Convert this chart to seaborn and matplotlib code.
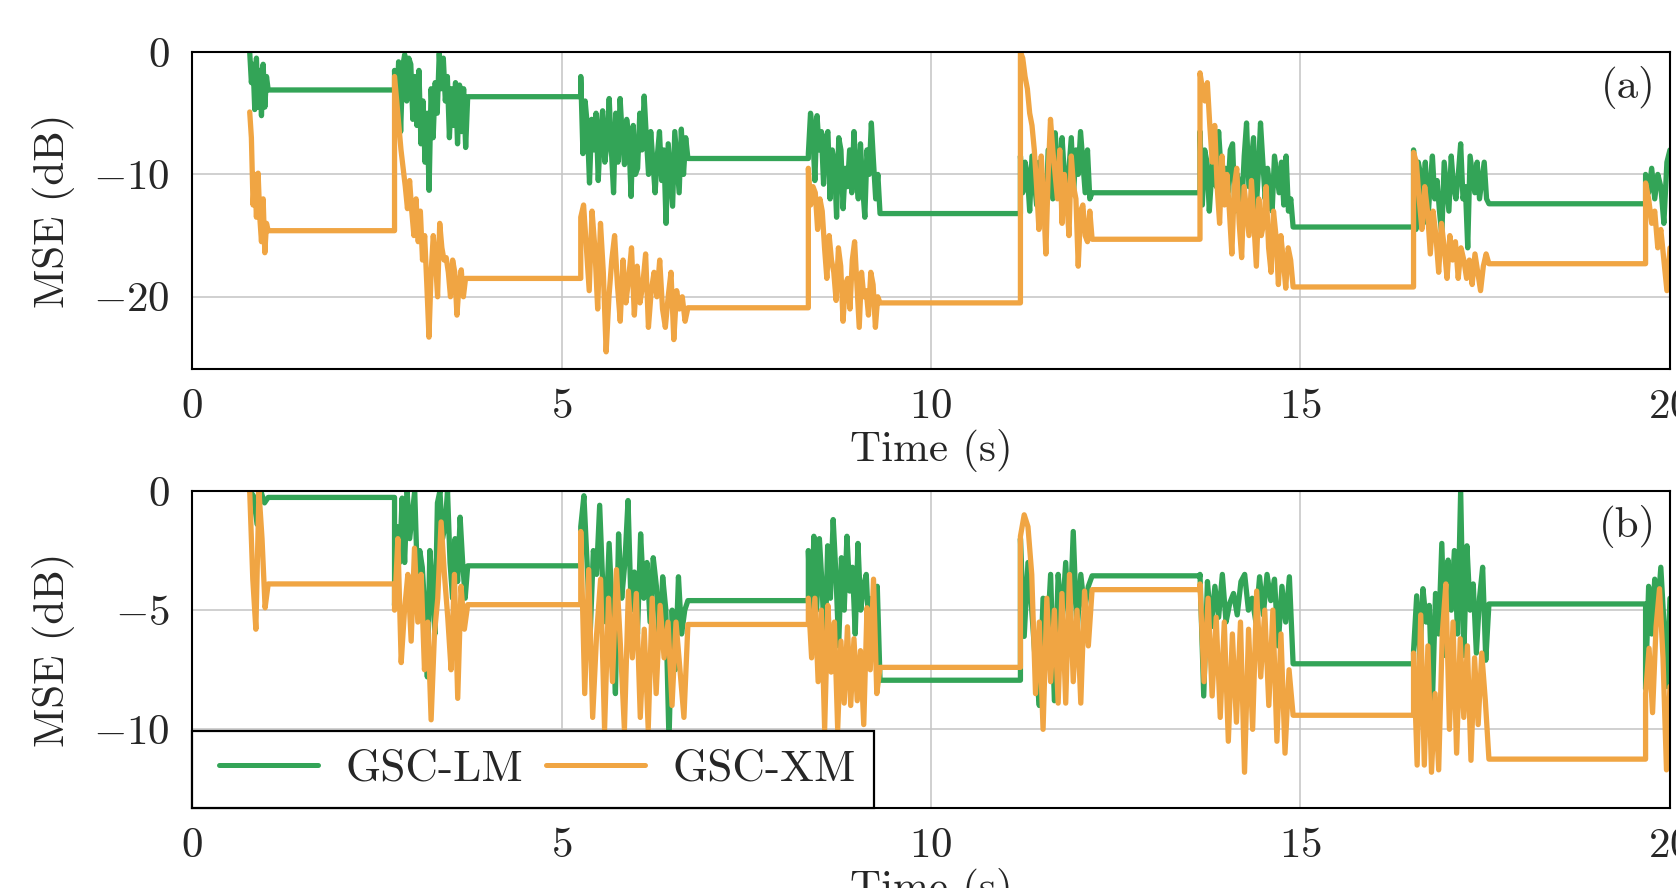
import numpy as np
import pandas as pd
import matplotlib
matplotlib.use("Agg")
import matplotlib.pyplot as plt
import seaborn as sns
from matplotlib.legend_handler import HandlerLine2D

# speech-active intervals (s); in the pauses the estimate is held
seg_start = [0.78, 2.74, 5.26, 8.34, 11.21, 13.64, 16.53, 19.67]
seg_end = [1.03, 3.73, 6.71, 9.31, 12.18, 14.90, 17.55, 20.0]

methods = ["GSC-LM", "GSC-XM"]
colors = ["#33a457", "#f0a543"]

# panel (a), MSE in dB per active interval (last value = held level)
lm_a = [
    [0, -2.5, -1.0, -4.7, -0.5, -4.5, -1.5, -5.2, -1.0, -4.5, -2, -3.1],
    [-1.5, -5, -0.8, -6.5, -1.2, -0.2, -4, -0.5, -1, -5.5, -2, -6, -1.5, -7.5, -4, -9, -5, -11.3, -3, -7, -2.5,
     -5, -0.1, -3, -0.5, -4, -2, -7, -3, -6, -2.5, -7.5, -2.7, -6.5, -3, -7.8, -3.65],
    [-2, -8.3, -4, -6, -10.7, -5.5, -8, -5, -10.5, -6.5, -4.8, -9, -7.5, -3.8, -8, -11.5, -5, -9, -3.8, -7, -9.2,
     -5.5, -7, -11.8, -6, -10, -9.5, -5, -8, -3.6, -7, -10, -6.5, -9, -11.5, -8.5, -6.5, -10.5, -8, -14, -7.5, -10,
     -12.6, -6.5, -9, -11.5, -6.3, -10, -7, -8.7],
    [-8.3, -5, -6.5, -10.5, -5.2, -8, -6.5, -10.8, -7, -6.5, -12, -8, -9, -13.5, -7, -8, -12.8, -9.5, -11, -8,
     -11.5, -6.5, -10, -12, -7.5, -11, -13.5, -8, -10, -5.8, -9, -12, -10, -13.2],
    [-8.5, -11.5, -9, -10, -13, -8.5, -10.5, -12.5, -9, -11, -13, -14, -8, -10, -12, -6.6, -9, -11, -7, -10, -12,
     -9.5, -7, -11.5, -8, -10, -6.5, -9, -11.5, -8, -12, -11.5],
    [-6.5, -12.5, -8, -9, -13, -10, -8, -11, -6.5, -9.5, -12, -9.5, -11.5, -8, -7.5, -13, -10, -11, -12.5, -8.5,
     -5.8, -11, -9, -7, -13.5, -10, -5.8, -9, -12, -9.5, -11, -13, -8.5, -10, -11.5, -9, -12.5, -8.5, -13, -12,
     -14.3],
    [-8, -14.5, -9, -10, -12, -9, -14, -11, -8.5, -12, -10.5, -13, -15, -9, -11, -13, -8.5, -11, -12, -10, -7.5,
     -12, -11, -16, -8.5, -10, -11.5, -9, -12, -10.5, -9, -12, -12.4],
    [-10, -11.5, -9.5, -12, -10, -11, -14, -9, -8],
]
xm_a = [
    [-4.9, -7, -12.5, -10, -13.5, -9.9, -13.5, -15.5, -12, -16.4, -14, -14.6],
    [-2, -4, -6, -8, -9.5, -11, -12.8, -10.5, -13, -15, -12, -15.5, -13, -17, -15, -19, -23.3, -18, -15, -17, -20,
     -14, -16, -17, -16.8, -18, -20, -17, -18, -21.5, -19, -17.8, -20, -18.5, -18.5],
    [-13.5, -12.5, -16, -19.5, -13, -16, -21, -14, -18, -24.5, -20, -17, -15, -19, -22, -17, -20.5, -18.5, -16,
     -21.5, -17.5, -20.5, -19, -16.5, -22.5, -19.5, -18, -20, -17, -21, -22.5, -20, -18, -23.5, -19.5, -21, -20,
     -22, -20.9],
    [-9.5, -12.5, -11, -11.5, -14.5, -12, -13, -16, -18.5, -15, -17, -18, -20.3, -16, -17.5, -22, -19, -18.5, -21,
     -17, -15.5, -19, -22.5, -18, -20, -19.5, -21.5, -18, -19, -22.5, -20, -20.5],
    [0, -0.5, -2, -3, -5, -6, -8, -11, -14.5, -8.5, -12, -16.5, -10, -5.5, -8, -10, -12, -8, -14, -10, -12, -15,
     -8.5, -11, -12, -17.5, -13, -12.5, -15, -15.5, -13, -15.3],
    [-1.7, -3, -4, -2.5, -6, -9, -6, -11, -14, -8.5, -12.5, -10, -13, -16.5, -11, -9.5, -14, -16.8, -11, -13, -15,
     -10.5, -14, -17.5, -12, -15, -14, -11, -16, -18, -13, -15, -19, -15, -17, -19.3, -16, -17, -19.2],
    [-8.2, -9, -12, -14.5, -11, -13, -16.5, -13, -15, -18, -14, -16, -18.5, -15, -17, -15.5, -18.5, -16, -17,
     -18.5, -17, -19, -16.5, -18, -19.5, -17.5, -16.5, -17.3],
    [-10.7, -12, -14, -13, -16, -14.5, -17, -19.5, -16],
]

# panel (b)
lm_b = [
    [0, -0.2, -1.4, 0, -0.5, -0.27],
    [-4.8, -1.5, -3, -0.3, -3, 0, -2, -1, 0, -3.5, -2.5, -3.2, -5, -7.8, -2.5, -4, -6, -0.5, 0, -2, -1.5, 0, -3,
     -4.5, -2, -3.8, -1.1, -3, -4.5, -3.14],
    [-1.5, -0.2, -3, -6, -2.5, -3.5, -0.6, -4, -5.5, -2.2, -5, -8.5, -1.8, -4.5, -3, -0.4, -5, -3.4, -6, -1.8,
     -4.5, -3, -5.5, -2.8, -4, -6.5, -3.6, -5, -10.5, -5, -7.5, -3.6, -6, -5, -4.6],
    [-2.5, -6, -1.9, -5, -2, -4, -7, -2.3, -4.5, -1.2, -3.5, -6.5, -2.8, -5, -1.9, -4.2, -3.2, -6, -2.2, -5, -4,
     -3.5, -6, -4.5, -5.5, -4, -7.94],
    [-2, -6.1, -3, -5, -7.3, -9, -4.5, -6.5, -3.5, -8.8, -3.5, -5.5, -3, -6, -1.7, -6, -3.5, -5, -4, -3.56],
    [-3.5, -8.6, -3.8, -5.7, -4, -5.3, -3.5, -5.5, -4.7, -4.3, -5.2, -3.8, -3.5, -5, -4.5, -5.5, -3.6, -5.2, -3.5,
     -4.6, -3.7, -6.5, -4, -5.5, -3.6, -7.25],
    [-6.7, -4.4, -7, -4.1, -5.5, -4.8, -8.9, -4.3, -6, -2.2, -6.9, -2.9, -5, -2.5, -6, 0, -6.9, -2.3, -5, -3.9,
     -6.8, -4.5, -3.2, -7.1, -4.74],
    [-8.3, -4, -6, -3.7, -5, -3.2, -5.5, -8.2, -4.5],
]
xm_b = [
    [0, -3.7, -5.8, 0, -2, -4.9, -3.9],
    [-5, -2, -7.2, -5, -3.5, -6.3, -2.4, -5.5, -3.5, -7.5, -5.5, -9.6, -6, -4.5, -1.3, -3.5, -5.3, -7.5, -3.5,
     -8.7, -4, -5.8, -4.77],
    [-1.7, -8.5, -3.3, -9.5, -6, -3.7, -10, -4.5, -8, -3.3, -6.5, -10, -4.2, -7, -4.3, -9.5, -5.8, -10, -4.5, -8.5,
     -4.8, -7, -5.5, -9, -5.5, -7.5, -9.5, -5.6],
    [-4.5, -7, -4.5, -8, -5, -10, -4.8, -7.6, -5.5, -10, -6.3, -8.9, -5.7, -9, -6.2, -8.8, -6.7, -9.8, -4.9, -7.5,
     -3.7, -8.5, -7.4],
    [-1.9, -1, -1.5, -3.5, -8.5, -5.5, -10, -4.5, -8, -5, -8.9, -4.3, -8.9, -3.5, -8, -5, -8.9, -4.2, -6.5, -4.14],
    [-3.9, -8, -4.5, -8.6, -5.3, -9.5, -5.5, -10.5, -6, -9.7, -5.5, -11.8, -5.8, -10, -4.2, -7.8, -5, -9, -5,
     -10.5, -6, -11, -7.5, -9.41],
    [-6.8, -11.5, -5.2, -11.5, -6.5, -11.8, -8.5, -11.7, -6, -3.9, -10, -5.5, -11, -6.2, -9.5, -6.5, -11.3, -7,
     -9.8, -6.8, -8.8, -11.25],
    [-8.5, -6.6, -9.3, -5.7, -4.1, -7, -11.7, -8.2],
]


def to_frame(segs, name):
    """Segment lists -> long table; level is held between segments."""
    t, y = [], []
    for k, vals in enumerate(segs):
        if k > 0:
            t.append(seg_start[k])
            y.append(segs[k - 1][-1])
        t.extend(np.linspace(seg_start[k], seg_end[k], len(vals)))
        y.extend(vals)
    return pd.DataFrame({"t": t, "mse": y, "method": name})


sns.set_theme(style="white")
plt.rcParams["font.family"] = "serif"
plt.rcParams["font.serif"] = ["cmr10"]
plt.rcParams["mathtext.fontset"] = "cm"
plt.rcParams["axes.formatter.use_mathtext"] = True
plt.rcParams["axes.unicode_minus"] = True

fs = 31
fig = plt.figure(figsize=(16.76, 8.88), dpi=100)
ax_a = fig.add_axes([0.1146, 0.5845, 0.8818, 0.3569])
ax_b = fig.add_axes([0.1146, 0.0901, 0.8818, 0.3570])

panels = [
    (ax_a, lm_a, xm_a, (-25.9, 0), [0, -10, -20], "(a)"),
    (ax_b, lm_b, xm_b, (-13.3, 0), [0, -5, -10], "(b)"),
]
for ax, lm, xm, ylim, yticks, tag in panels:
    df = pd.concat([to_frame(lm, methods[0]), to_frame(xm, methods[1])], ignore_index=True)
    sns.lineplot(data=df, x="t", y="mse", hue="method", hue_order=methods,
                 palette=colors, estimator=None, sort=False, linewidth=3.8,
                 ax=ax, legend=(ax is ax_b))
    ax.set_xlim(0, 20)
    ax.set_ylim(*ylim)
    ax.set_xticks([0, 5, 10, 15, 20])
    ax.set_yticks(yticks)
    ax.grid(True, color="#c4c4c4", linewidth=1.1)
    ax.set_axisbelow(True)
    for sp in ax.spines.values():
        sp.set_color("black")
        sp.set_linewidth(1.5)
    ax.tick_params(length=0, labelsize=fs)
    ax.tick_params(axis="x", pad=14)
    ax.tick_params(axis="y", pad=16)
    ax.set_xlabel("Time (s)", fontsize=fs, labelpad=2)
    ax.set_ylabel("MSE (dB)", fontsize=fs)
    ax.yaxis.set_label_coords(-0.079, 0.5)
    ax.text(0.9905, 0.955, tag, transform=ax.transAxes, ha="right", va="top", fontsize=fs)

handles, labels = ax_b.get_legend_handles_labels()
leg = ax_b.legend(handles, labels, loc="lower left", ncol=2, fontsize=32.5,
                  borderaxespad=0, fancybox=False, framealpha=1, edgecolor="black",
                  handlelength=2.4, handletextpad=0.6, columnspacing=0.3,
                  borderpad=0.4,
                  handler_map={h: HandlerLine2D(xpad=0.2) for h in handles})
leg.get_frame().set_linewidth(1.6)
for line in leg.get_lines():
    line.set_linewidth(3.6)

fig.savefig("out.png", dpi=100)
